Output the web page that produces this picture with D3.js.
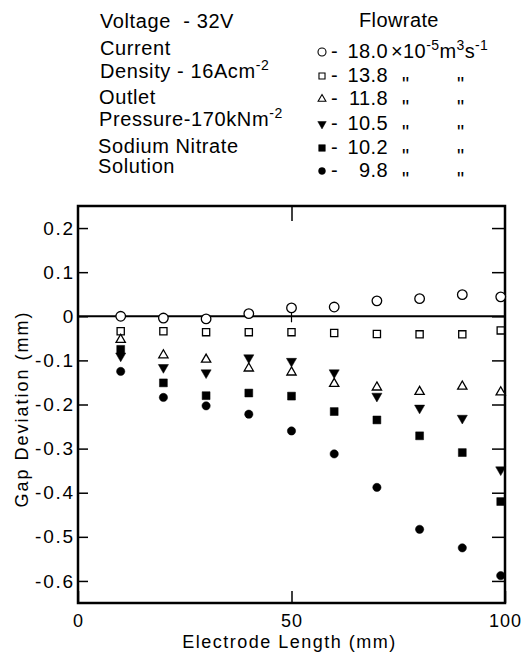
<!DOCTYPE html>
<html>
<head>
<meta charset="utf-8">
<script src="https://cdn.jsdelivr.net/npm/d3@7"></script>
<style>
  html, body { margin: 0; padding: 0; background: #fff; }
  svg { display: block; }
  text { fill: #000; }
</style>
</head>
<body>
<svg id="chart" width="532" height="658"></svg>
<script>
// ---- data ----
const electrodeLength = [10, 20, 30, 40, 50, 60, 70, 80, 90, 99];
const flowrates = ["18.0", "13.8", "11.8", "10.5", "10.2", "9.8"];
const seriesFlow180 = [0.0, -0.004, -0.006, 0.006, 0.019, 0.021, 0.035, 0.040, 0.049, 0.044];
const seriesFlow138 = [-0.034, -0.034, -0.036, -0.036, -0.036, -0.038, -0.040, -0.041, -0.041, -0.032];
const seriesFlow118 = [-0.053, -0.088, -0.098, -0.118, -0.127, -0.153, -0.161, -0.171, -0.159, -0.172];
const seriesFlow105 = [-0.090, -0.116, -0.128, -0.094, -0.102, -0.128, -0.181, -0.208, -0.231, -0.348];
const seriesFlow102 = [-0.075, -0.151, -0.180, -0.174, -0.181, -0.216, -0.235, -0.271, -0.309, -0.420];
const seriesFlow98  = [-0.125, -0.184, -0.203, -0.222, -0.260, -0.312, -0.388, -0.483, -0.525, -0.588];
const yTicks = [0.2, 0.1, 0, -0.1, -0.2, -0.3, -0.4, -0.5, -0.6];
const yTickLabels = ["0.2", "0.1", "0", "-0.1", "-0.2", "-0.3", "-0.4", "-0.5", "-0.6"];
const xTicks = [0, 50, 100];
const xTickLabels = ["0", "50", "100"];

const allSeries = [
  { values: seriesFlow180, shape: "circle", filled: false },
  { values: seriesFlow138, shape: "square", filled: false },
  { values: seriesFlow118, shape: "triUp", filled: false },
  { values: seriesFlow105, shape: "triDown", filled: true },
  { values: seriesFlow102, shape: "square", filled: true },
  { values: seriesFlow98,  shape: "circle", filled: true }
];

// ---- layout ----
const svg = d3.select("#chart");
const L = 78, R = 505, T = 206, B = 603;
const x = d3.scaleLinear().domain([0, 100]).range([L, R]);
const y = d3.scaleLinear().domain([-0.65, 0.25]).range([B, T]);

const FONT = "'Liberation Sans', Arial, sans-serif";

function markerPath(shape, scale) {
  const s = scale || 1;
  if (shape === "circle") return d3.symbol(d3.symbolCircle, 60 * s)();
  if (shape === "square") return d3.symbol(d3.symbolSquare, 52 * s)();
  return d3.symbol(d3.symbolTriangle, 34 * s)();
}
function markerSize(ser) {
  if (ser.shape === "circle") return ser.filled ? 0.9 : 1.2;
  if (ser.shape === "square") return ser.filled ? 1.2 : 1.0;
  if (ser.shape === "triDown") return 1.3;
  return 1.1;
}

const g = svg.append("g");

// zero line
g.append("line")
  .attr("x1", x(0)).attr("x2", x(100))
  .attr("y1", y(0)).attr("y2", y(0))
  .attr("stroke", "#000").attr("stroke-width", 2);
g.append("line")
  .attr("x1", x(50)).attr("x2", x(50))
  .attr("y1", y(0) - 6).attr("y2", y(0) + 6)
  .attr("stroke", "#000").attr("stroke-width", 1.2);

// axes with inward ticks
const yAxisLeft = d3.axisLeft(y).tickValues(yTicks).tickSizeInner(-10).tickSizeOuter(0)
  .tickFormat((d, i) => yTickLabels[i]).tickPadding(3);
const yAxisRight = d3.axisRight(y).tickValues(yTicks).tickSizeInner(-13).tickSizeOuter(0)
  .tickFormat("");
const xAxisBottom = d3.axisBottom(x).tickValues(xTicks).tickSizeInner(-12).tickSizeOuter(0)
  .tickFormat((d, i) => xTickLabels[i]).tickPadding(11);
const xAxisTop = d3.axisTop(x).tickValues([50]).tickSizeInner(-15).tickSizeOuter(0)
  .tickFormat("");

function styleAxis(sel, size, spacing) {
  sel.select(".domain").remove();
  sel.selectAll(".tick line").attr("stroke", "#000").attr("stroke-width", 1.5);
  sel.selectAll(".tick text").attr("font-family", FONT).attr("font-size", size)
    .attr("fill", "#000").attr("letter-spacing", spacing);
}

g.append("g").attr("transform", `translate(${L},0)`).call(yAxisLeft).call(styleAxis, 19, "1.8px");
g.append("g").attr("transform", `translate(${R},0)`).call(yAxisRight).call(styleAxis, 19, "1.8px");
g.append("g").attr("transform", `translate(0,${B})`).call(xAxisBottom).call(styleAxis, 18, "1px");
g.append("g").attr("transform", `translate(0,${T})`).call(xAxisTop).call(styleAxis, 18, "1px");

g.append("rect")
  .attr("x", L).attr("y", T).attr("width", R - L).attr("height", B - T)
  .attr("fill", "none").attr("stroke", "#000").attr("stroke-width", 2.5);

// ---- data markers ----
allSeries.forEach(ser => {
  const path = markerPath(ser.shape, markerSize(ser));
  g.append("g").selectAll("path")
    .data(electrodeLength.map((d, i) => [d, ser.values[i]]))
    .join("path")
    .attr("d", path)
    .attr("transform", d => `translate(${x(d[0])},${y(d[1])})` + (ser.shape === "triDown" ? " rotate(180)" : ""))
    .attr("fill", ser.filled ? "#000" : "#fff")
    .attr("stroke", "#000")
    .attr("stroke-width", ser.filled ? 0.5 : 1.3);
});

// ---- axis titles ----
svg.append("text")
  .attr("x", x(50) - 2).attr("y", 648)
  .attr("text-anchor", "middle")
  .attr("font-family", FONT).attr("font-size", 18).attr("letter-spacing", "1.5px")
  .text("Electrode Length (mm)");

svg.append("text")
  .attr("transform", "translate(28,409) rotate(-90)")
  .attr("text-anchor", "middle")
  .attr("font-family", FONT).attr("font-size", 18).attr("letter-spacing", "2px")
  .text("Gap Deviation (mm)");

// ---- text with superscripts ----
function supText(parent, xPos, yPos, parts) {
  const t = parent.append("text").attr("x", xPos).attr("y", yPos);
  let shift = 0;
  parts.forEach(p => {
    const ts = t.append("tspan").text(p.t);
    if (p.sup) {
      ts.attr("font-size", 14).attr("dy", -8 - shift);
      shift = -8;
    } else {
      if (shift !== 0) ts.attr("dy", -shift);
      shift = 0;
    }
  });
  return t;
}

// ---- condition notes ----
const notes = svg.append("g").attr("font-family", FONT).attr("font-size", 20).attr("letter-spacing", "0.6px");
notes.append("text").attr("x", 100).attr("y", 28).attr("xml:space", "preserve").text("Voltage  - 32V");
notes.append("text").attr("x", 100).attr("y", 55).text("Current");
supText(notes, 100, 78, [{ t: "Density - 16Acm" }, { t: "-2", sup: true }]);
notes.append("text").attr("x", 99).attr("y", 104).text("Outlet");
supText(notes, 99, 126, [{ t: "Pressure-170kNm" }, { t: "-2", sup: true }]);
notes.append("text").attr("x", 98).attr("y", 153).text("Sodium Nitrate");
notes.append("text").attr("x", 98).attr("y", 173).text("Solution");

// ---- flowrate legend ----
const leg = svg.append("g").attr("font-family", FONT).attr("font-size", 20).attr("letter-spacing", "0.4px");
leg.append("text").attr("x", 359).attr("y", 27).text("Flowrate");
const legY = [58, 82, 105, 130, 154, 177];
allSeries.forEach((ser, i) => {
  const yy = legY[i];
  leg.append("path")
    .attr("d", markerPath(ser.shape, markerSize(ser) * 0.7))
    .attr("transform", `translate(322,${yy - 6})` + (ser.shape === "triDown" ? " rotate(180)" : ""))
    .attr("fill", ser.filled ? "#000" : "#fff")
    .attr("stroke", "#000")
    .attr("stroke-width", ser.filled ? 0.5 : 1.1);
  leg.append("text").attr("x", 331).attr("y", yy).text("-");
  leg.append("text").attr("x", 388).attr("y", yy).attr("text-anchor", "end").text(flowrates[i]);
  if (i === 0) {
    supText(leg, 391, yy, [{ t: "\u00D710" }, { t: "-5", sup: true }, { t: "m" }, { t: "3", sup: true }, { t: "s" }, { t: "-1", sup: true }]);
  } else {
    leg.append("text").attr("x", 402).attr("y", yy + 9).attr("font-size", 20).attr("letter-spacing", "0.5px").text("\"");
    leg.append("text").attr("x", 457).attr("y", yy + 9).attr("font-size", 20).attr("letter-spacing", "0.5px").text("\"");
  }
});
</script>
</body>
</html>
